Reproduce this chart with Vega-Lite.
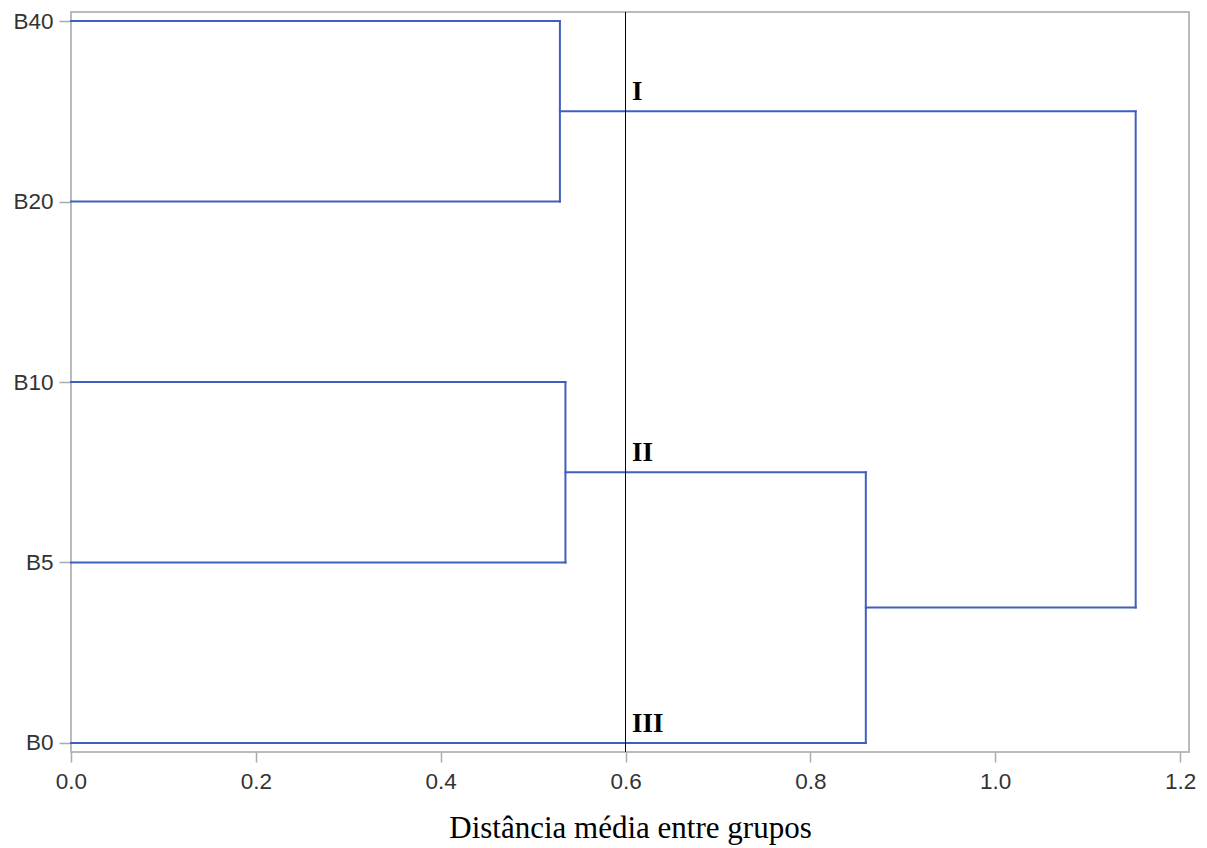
{
  "$schema": "https://vega.github.io/schema/vega-lite/v6.json",
  "width": 1118,
  "height": 740,
  "autosize": "none",
  "padding": {"left": 71, "top": 12, "right": 18, "bottom": 96},
  "background": "white",
  "config": {
    "view": {"stroke": "#b9bcbf", "strokeWidth": 2},
    "axis": {"grid": false, "domain": false, "tickColor": "#a8abae", "tickWidth": 1.5, "labelColor": "#333333", "labelFont": "Liberation Sans", "labelFontSize": 22.5, "labelFlush": false}
  },
  "datasets": {
    "segs": [
      {"x": 0, "x2": 0.529, "y": 4, "y2": 4},
      {"x": 0, "x2": 0.529, "y": 3, "y2": 3},
      {"x": 0.529, "x2": 0.529, "y": 3, "y2": 4},
      {"x": 0.529, "x2": 1.152, "y": 3.5, "y2": 3.5},
      {"x": 0, "x2": 0.535, "y": 2, "y2": 2},
      {"x": 0, "x2": 0.535, "y": 1, "y2": 1},
      {"x": 0.535, "x2": 0.535, "y": 1, "y2": 2},
      {"x": 0.535, "x2": 0.86, "y": 1.5, "y2": 1.5},
      {"x": 0, "x2": 0.86, "y": 0, "y2": 0},
      {"x": 0.86, "x2": 0.86, "y": 0, "y2": 1.5},
      {"x": 0.86, "x2": 1.152, "y": 0.75, "y2": 0.75},
      {"x": 1.152, "x2": 1.152, "y": 0.75, "y2": 3.5}
    ],
    "labels": [
      {"x": 0.607, "y": 3.5, "label": "I"},
      {"x": 0.607, "y": 1.5, "label": "II"},
      {"x": 0.607, "y": 0, "label": "III"}
    ],
    "cut": [{"x": 0.6}]
  },
  "layer": [
    {
      "data": {"name": "segs"},
      "mark": {"type": "rule", "color": "#3F5FBF", "strokeWidth": 2, "strokeCap": "square"},
      "encoding": {
        "x": {"field": "x", "type": "quantitative", "scale": {"domain": [0, 1.2097], "nice": false, "zero": false},
          "axis": {"values": [0, 0.2, 0.4, 0.6, 0.8, 1.0, 1.2], "format": ".1f", "tickSize": 10, "labelPadding": 8,
            "title": "Distância média entre grupos", "titleFont": "Liberation Serif", "titleFontSize": 31, "titleFontWeight": "normal", "titleColor": "#000000", "titlePadding": 21}},
        "x2": {"field": "x2"},
        "y": {"field": "y", "type": "quantitative", "scale": {"domain": [-0.05, 4.05], "nice": false, "zero": false},
          "axis": {"values": [0, 1, 2, 3, 4], "labelExpr": "['B0','B5','B10','B20','B40'][datum.value]", "tickSize": 12, "labelPadding": 6, "title": null}},
        "y2": {"field": "y2"}
      }
    },
    {
      "data": {"name": "cut"},
      "mark": {"type": "rule", "color": "#000000", "strokeWidth": 1},
      "encoding": {"x": {"field": "x", "type": "quantitative"}}
    },
    {
      "data": {"name": "labels"},
      "mark": {"type": "text", "align": "left", "baseline": "alphabetic", "dy": -11, "font": "Liberation Serif", "fontWeight": "bold", "fontSize": 27, "color": "#000000"},
      "encoding": {
        "x": {"field": "x", "type": "quantitative"},
        "y": {"field": "y", "type": "quantitative"},
        "text": {"field": "label"}
      }
    }
  ]
}
